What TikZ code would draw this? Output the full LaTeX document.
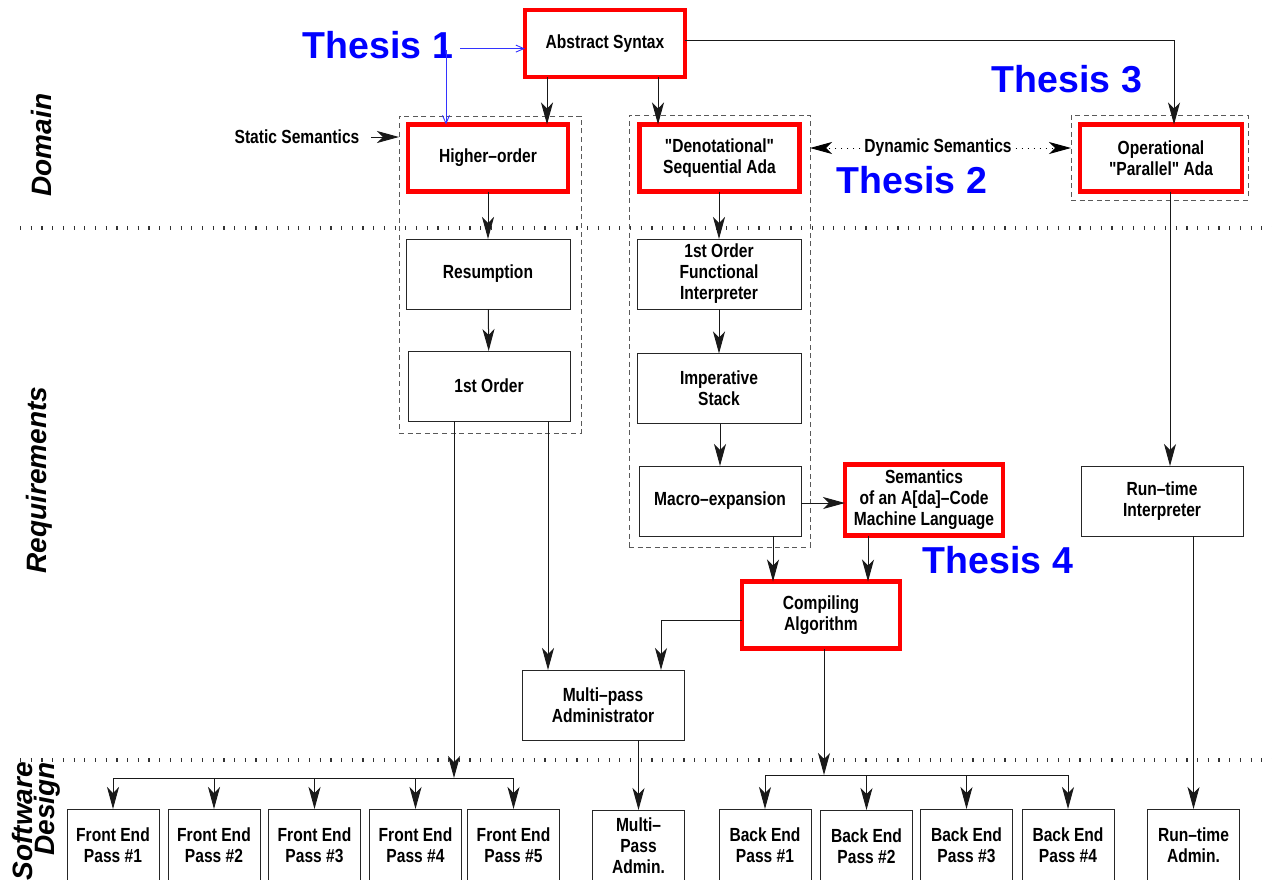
\documentclass[tikz,border=0pt]{standalone}
\usepackage{fontspec}
\setmainfont{Liberation Sans}
\newfontfamily\cond{Liberation Sans}[FakeStretch=0.82]
\usetikzlibrary{arrows.meta}
\begin{document}
\begin{tikzpicture}[x=0.5pt,y=-0.5pt,
  every node/.style={inner sep=0pt, outer sep=0pt},
  lbl/.style={font=\cond\bfseries\fontsize{9.5}{10.5}\selectfont, align=center},
  box/.style={lbl, draw=black!85, line width=0.5pt, minimum width=82pt, minimum height=35pt},
  redbox/.style={lbl, draw=red, line width=2.2pt, minimum width=80pt, minimum height=33.5pt},
  passbox/.style={lbl, draw=black!85, line width=0.5pt, minimum width=46pt, minimum height=36pt},
  grp/.style={draw=black!65, line width=0.5pt, dash pattern=on 2.5pt off 1.8pt},
  thesis/.style={text=blue, font=\bfseries\fontsize{18.75}{20}\selectfont, anchor=base},
  sect/.style={rotate=90, font=\bfseries\itshape\fontsize{14}{10}\selectfont},
  head/.style={Stealth[length=11pt,width=6pt,inset=3pt]},
  arr/.style={draw=black!90, line width=0.5pt, -{Stealth[length=11pt,width=6pt,inset=3pt]}},
  bluearr/.style={draw=blue!80, line width=0.45pt, -{Straight Barb[length=4pt,width=3.5pt]}},
  dotarr/.style={draw=black, line width=0.5pt, dash pattern=on 0.6pt off 2.4pt,
    -{Stealth[length=11pt,width=6pt,inset=3pt]}},
  sep/.style={draw=black!80, line width=2pt, dash pattern=on 0.6pt off 4.75pt}
]
\useasboundingbox (0,0) rectangle (1272,879);
\clip (0,0) rectangle (1272,879);

% layer separators
\draw[sep] (20,228) -- (1272,228);
\draw[sep] (20,760) -- (1272,760);

% layer titles
\node[sect] (domain) at (41,145) {Domain};
\node[sect] (reqs) at (39,480) {Requirements};
\node[sect, align=right, anchor=north east] (swd) at (12,762) {Software\\Design};

% dashed groupings
\node[grp, minimum width=91pt, minimum height=158.5pt] (g1) at (490,274.5) {};
\node[grp, minimum width=90.5pt, minimum height=216pt] (g2) at (719.5,331) {};
\node[grp, minimum width=88.5pt, minimum height=42.5pt] (g3) at (1159.5,157.5) {};

% domain level
\node[redbox] (abs) at (605,43.5) {Abstract Syntax};
\node[redbox] (ho) at (488,158) {Higher–order};
\node[redbox] (den) at (719.5,158) {"Denotational"\\Sequential Ada};
\node[redbox, minimum width=81pt] (op) at (1161,158) {Operational\\"Parallel" Ada};

% requirements level
\node[box] (res) at (488,274) {Resumption};
\node[box, minimum width=81pt] (fo) at (489,386) {1st Order};
\node[box] (foi) at (719,274) {1st Order\\Functional\\Interpreter};
\node[box] (imp) at (719,388.5) {Imperative\\Stack};
\node[box, minimum width=81pt] (mac) at (720,501) {Macro–expansion};
\node[redbox, minimum width=79pt, minimum height=35.5pt] (sem) at (924,500) {Semantics\\of an A[da]–Code\\Machine Language};
\node[redbox, minimum width=79pt] (comp) at (821,615) {Compiling\\Algorithm};
\node[box, minimum width=81pt] (mpa) at (603,705) {Multi–pass\\Administrator};
\node[box, minimum width=81pt] (rti) at (1162,501) {Run–time\\Interpreter};

% software design level
\node[passbox] (fe1) at (113,845) {Front End\\Pass \#1};
\node[passbox] (fe2) at (214,845) {Front End\\Pass \#2};
\node[passbox] (fe3) at (314.5,845) {Front End\\Pass \#3};
\node[passbox] (fe4) at (415.5,845) {Front End\\Pass \#4};
\node[passbox] (fe5) at (513.5,845) {Front End\\Pass \#5};
\node[passbox] (mpa2) at (638.5,846) {Multi–\\Pass\\Admin.};
\node[passbox] (be1) at (765,845) {Back End\\Pass \#1};
\node[passbox] (be2) at (866.5,846) {Back End\\Pass \#2};
\node[passbox] (be3) at (966.5,845) {Back End\\Pass \#3};
\node[passbox] (be4) at (1068,845) {Back End\\Pass \#4};
\node[passbox] (rta) at (1193.5,845) {Run–time\\Admin.};

% side labels
\node[lbl] (ss) at (297,137) {Static Semantics};
\node[lbl, inner xsep=2pt] (ds) at (938,148) {Dynamic Semantics};
\node[thesis] (t1) at (378,58) {Thesis 1};
\node[thesis] (t2) at (912,193) {Thesis 2};
\node[thesis] (t3) at (1067,92) {Thesis 3};
\node[thesis] (t4) at (998,573) {Thesis 4};

% bus junctions
\coordinate (fbus) at (454,778);
\coordinate (bbus) at (824,775);

% thesis 1 pointers
\draw[bluearr] ([xshift=3.5pt,yshift=-2pt]t1.east) -- ([yshift=-2pt]t1.east -| abs.west);
\draw[bluearr] ([xshift=-21pt]ho.north |- t1.south) ++(0,-8) -- ([xshift=-21pt]ho.north);

% domain connectors
\draw[arr] ([xshift=-29pt]abs.south) -- ([xshift=-29pt]abs.south |- ho.north);
\draw[arr] ([xshift=26.5pt]abs.south) -- ([xshift=26.5pt]abs.south |- den.north);
\draw[arr] ([yshift=1.5pt]abs.east) -| ([xshift=6.5pt]op.north);
\draw[arr] (ss.east) ++(12,0) -- (g1.west |- ss);
\draw[dotarr] (ds.west) -- (g2.east |- ds);
\draw[dotarr] (ds.east) -- (g3.west |- ds);

% sequential chains
\draw[arr] (ho) -- (res);
\draw[arr] (res) -- (fo);
\draw[arr] (den.south -| foi.north) -- (foi.north);
\draw[arr] (foi) -- (imp);
\draw[arr] (imp.south -| mac.north) -- (mac.north);
\draw[arr] ([yshift=-1pt]mac.east) -- ([yshift=-1pt]mac.east -| sem.west);
\draw[arr] ([xshift=26.5pt]mac.south) -- ([xshift=26.5pt]mac.south |- comp.north);
\draw[arr] ([xshift=-28pt]sem.south) -- ([xshift=-28pt]sem.south |- comp.north);
\draw[arr] ([yshift=-2.5pt]comp.west) -| ([xshift=29pt]mpa.north);
\draw[arr] ([xshift=29.5pt]fo.south) -- ([xshift=29.5pt]fo.south |- mpa.north);
\draw[arr] ([xshift=4.5pt]op.south) -- ([xshift=4.5pt]op.south |- rti.north);

% down to the software design level
\draw[arr] (fo.south -| fbus) -- (fbus);
\draw[line width=0.5pt, draw=black!90] (fbus -| fe1.north) -- (fbus -| fe5.north);
\foreach \n in {fe1,fe2,fe3,fe4,fe5}
  \draw[arr] (fbus -| \n.north) -- (\n.north);
\draw[arr] (comp.south -| bbus) -- (bbus);
\draw[line width=0.5pt, draw=black!90] (bbus -| be1.north) -- (bbus -| be4.north);
\foreach \n in {be1,be2,be3,be4}
  \draw[arr] (bbus -| \n.north) -- (\n.north);
\draw[arr] (mpa.south -| mpa2.north) -- (mpa2.north);
\draw[arr] (rti.south -| rta.north) -- (rta.north);
\end{tikzpicture}
\end{document}
